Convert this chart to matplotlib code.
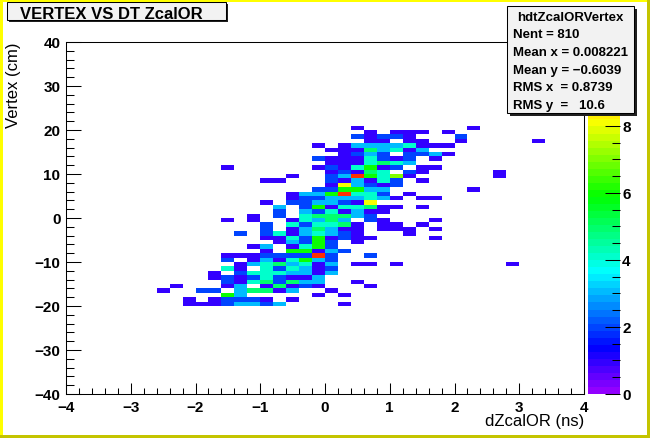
import numpy as np
import matplotlib
matplotlib.use("Agg")
import matplotlib.pyplot as plt
from matplotlib.colors import ListedColormap, Normalize
from matplotlib.patches import Rectangle
from matplotlib.ticker import MultipleLocator
import colorsys

plt.rcParams['font.family'] = ['Liberation Sans', 'DejaVu Sans']

# ---------------- data ----------------
x_range = (-4.0, 4.0)
n_xbins = 40
y_range = (-40.0, 40.0)
n_ybins = 80
z_max = 10.5
z_ticks = [0, 2, 4, 6, 8, 10]
z_tick_labels = ["0", "2", "4", "6", "8", ""]   # "10" is hidden under the stats box

# one entry per filled y-bin: y-bin centre, the x-bin centres filled, and their entries
y_rows = [20.5, 19.5, 18.5, 17.5, 16.5, 15.5, 14.5, 13.5, 12.5, 11.5, 10.5, 9.5, 8.5,
          7.5, 6.5, 5.5, 4.5, 3.5, 2.5, 1.5, 0.5, -0.5, -1.5, -2.5, -3.5, -4.5, -5.5,
          -6.5, -7.5, -8.5, -9.5, -10.5, -11.5, -12.5, -13.5, -14.5, -15.5, -16.5,
          -17.5, -18.5, -19.5]
x_cells = [
    [0.5, 2.3],
    [0.7, 1.1, 1.3, 1.5, 1.9],
    [0.5, 0.7, 0.9, 1.1, 1.3, 2.1],
    [0.7, 0.9, 1.3, 1.5, 2.1, 3.3],
    [-0.1, 0.3, 0.5, 0.7, 0.9, 1.1, 1.3, 1.5, 1.7, 1.9],
    [0.1, 0.3, 0.5, 0.7, 0.9, 1.1, 1.3, 1.5],
    [0.3, 0.5, 0.7, 0.9, 1.3, 1.5, 1.7, 1.9],
    [-0.1, 0.1, 0.3, 0.5, 0.7, 0.9, 1.1, 1.3, 1.7],
    [0.1, 0.3, 0.5, 0.7, 0.9, 1.1, 1.3],
    [-1.5, -0.1, 0.1, 0.3, 0.5, 0.7, 0.9, 1.1, 1.5, 1.7],
    [0.1, 0.3, 0.5, 0.7, 0.9, 1.3, 1.5, 2.7],
    [-0.5, 0.1, 0.3, 0.5, 0.7, 0.9, 1.1, 1.3, 2.7],
    [-0.9, -0.7, 0.1, 0.3, 0.5, 0.7, 0.9, 1.1, 1.5],
    [0.1, 0.3, 0.5, 0.7, 0.9, 1.1],
    [-0.1, 0.1, 0.3, 0.5, 0.7, 0.9, 2.3],
    [-0.5, -0.3, -0.1, 0.1, 0.3, 0.5, 0.7, 0.9, 1.3],
    [-0.5, -0.3, -0.1, 0.1, 0.3, 0.5, 0.7, 0.9, 1.1, 1.5, 1.7],
    [-0.9, -0.5, -0.3, -0.1, 0.1, 0.3, 0.5, 0.7],
    [-0.7, -0.3, -0.1, 0.1, 0.3, 0.5, 0.7, 0.9, 1.1, 1.5],
    [-0.7, -0.3, -0.1, 0.1, 0.3, 0.5, 0.7, 0.9],
    [-1.1, -0.7, -0.3, -0.1, 0.1, 0.3, 0.5, 0.7],
    [-1.5, -1.1, -0.5, -0.3, -0.1, 0.1, 0.3, 0.7, 0.9, 1.7],
    [-0.9, -0.5, -0.3, -0.1, 0.1, 0.3, 0.5, 0.9, 1.1, 1.5],
    [-0.9, -0.5, -0.3, -0.1, 0.1, 0.3, 0.5, 0.9, 1.1, 1.3, 1.7],
    [-1.3, -0.9, -0.7, -0.5, -0.3, -0.1, 0.1, 0.3, 0.5, 1.3],
    [-0.9, -0.7, -0.5, -0.3, -0.1, 0.1, 0.3, 0.5, 0.7, 1.7],
    [-0.7, -0.5, -0.3, -0.1, 0.1, 0.5],
    [-1.1, -0.9, -0.5, -0.3, -0.1, 0.1],
    [-0.9, -0.5, -0.3, -0.1, 0.1, 0.3],
    [-1.5, -1.3, -1.1, -0.9, -0.7, -0.5, -0.3, -0.1, 0.1, 0.7],
    [-1.5, -1.1, -0.9, -0.7, -0.5, -0.3, -0.1, 0.1],
    [-1.3, -1.1, -0.9, -0.7, -0.5, -0.3, -0.1, 0.1, 0.5, 0.7, 1.1, 2.9],
    [-1.5, -1.3, -0.9, -0.7, -0.5, -0.3, -0.1, 0.1],
    [-1.7, -1.3, -1.1, -0.9, -0.7, -0.5, -0.3, -0.1, 0.1],
    [-1.7, -1.5, -1.3, -1.1, -0.9, -0.7, -0.5, -0.3, -0.1],
    [-1.5, -1.3, -1.1, -0.9, -0.7, -0.5, -0.3, -0.1, 0.5],
    [-2.3, -1.5, -1.3, -0.9, -0.7, -0.5, -0.3, -0.1, 0.7],
    [-2.5, -1.9, -1.7, -1.3, -1.1, -0.9, -0.7, -0.5, 0.1],
    [-1.5, -1.3, -0.1, 0.3],
    [-2.1, -1.7, -1.5, -1.3, -1.1, -0.9, -0.5],
    [-2.1, -1.9, -1.7, -1.5, -1.3, -1.1, -0.9, -0.7, 0.3],
]
n_cells = [
    [1, 1],
    [1, 1, 1, 1, 1],
    [2, 1, 2, 2, 1, 2],
    [1, 1, 1, 1, 1, 1],
    [1, 1, 3, 3, 3, 3, 4, 1, 1, 1],
    [1, 1, 1, 5, 3, 4, 1, 3],
    [1, 2, 3, 2, 2, 2, 3, 1],
    [2, 1, 1, 1, 4, 2, 1, 2, 1],
    [1, 1, 1, 4, 5, 4, 3],
    [1, 1, 2, 1, 4, 6, 1, 2, 1, 1],
    [1, 2, 1, 5, 4, 2, 1, 1],
    [1, 2, 3, 10, 6, 4, 7, 1, 1],
    [1, 1, 2, 1, 3, 1, 4, 2, 1],
    [1, 8, 3, 2, 1, 2],
    [2, 2, 6, 6, 3, 3, 1],
    [1, 3, 3, 6, 10, 4, 4, 2, 1],
    [1, 2, 2, 3, 3, 3, 4, 3, 1, 1, 1],
    [1, 2, 2, 3, 3, 2, 1, 8],
    [3, 2, 6, 1, 4, 4, 5, 1, 1, 1],
    [2, 3, 2, 4, 1, 3, 1, 1],
    [1, 2, 4, 5, 5, 5, 3, 2],
    [1, 1, 1, 4, 3, 5, 3, 2, 1, 1],
    [2, 4, 2, 4, 4, 5, 1, 1, 1, 1],
    [2, 1, 3, 5, 3, 1, 1, 1, 1, 1, 1],
    [2, 2, 4, 1, 3, 4, 3, 2, 1, 1],
    [1, 1, 4, 2, 6, 1, 2, 1, 1, 1],
    [1, 3, 2, 6, 2, 1],
    [1, 3, 1, 4, 6, 2],
    [1, 6, 6, 1, 3, 2],
    [1, 1, 1, 2, 2, 2, 2, 10, 2, 2],
    [2, 1, 3, 1, 4, 6, 3, 2],
    [1, 3, 4, 5, 3, 4, 1, 3, 1, 1, 1, 1],
    [4, 1, 4, 2, 4, 3, 1, 2],
    [1, 2, 4, 4, 4, 3, 3, 1, 3],
    [1, 2, 1, 2, 4, 2, 1, 1, 3],
    [2, 1, 4, 5, 2, 5, 3, 3, 1],
    [1, 1, 3, 1, 5, 1, 2, 1, 1],
    [1, 2, 2, 3, 5, 5, 1, 3, 1],
    [6, 3, 1, 1],
    [1, 1, 2, 2, 2, 1, 1],
    [1, 1, 1, 2, 3, 3, 2, 3, 1],
]

hist_name = "hdtZcalORVertex"
stats_lines = ["Nent = 810", "Mean x = 0.008221", "Mean y = \u22120.6039",
               "RMS x  = 0.8739", "RMS y  =   10.6"]
title = "VERTEX VS DT ZcalOR"
x_title = "dZcalOR (ns)"
y_title = "Vertex (cm)"

# ---------------- build histogram ----------------
cx, cy, cw = [], [], []
for yv, xs, ns in zip(y_rows, x_cells, n_cells):
    for xv, nv in zip(xs, ns):
        cx.append(xv); cy.append(yv); cw.append(nv)
xedges = np.linspace(x_range[0], x_range[1], n_xbins + 1)
yedges = np.linspace(y_range[0], y_range[1], n_ybins + 1)
H, xe, ye = np.histogram2d(cx, cy, bins=[xedges, yedges], weights=cw)
Hm = np.ma.masked_where(H.T <= 0, H.T)

# ROOT "pretty" palette: 50 HLS colours, hue 280 -> 0
pal = [colorsys.hls_to_rgb(((280 - (i + 1) * 5.6) % 360) / 360.0, 0.5, 1.0) for i in range(50)]
cmap = ListedColormap(pal)
norm = Normalize(0, z_max)

# ---------------- figure ----------------
W, Hpx = 650, 439
fig = plt.figure(figsize=(W / 100, Hpx / 100), dpi=100)
fig.patch.set_facecolor('white')

def fx(p):
    return p / W

def fy(p):
    return 1 - p / Hpx

lw = 0.75
ax = fig.add_axes([fx(66), fy(395), (584 - 66) / W, (395 - 43) / Hpx])
mesh = ax.pcolormesh(xe, ye, Hm, cmap=cmap, norm=norm, shading='flat',
                     antialiased=False, linewidth=0)
ax.set_xlim(*x_range)
ax.set_ylim(*y_range)
ax.xaxis.set_major_locator(MultipleLocator(1))
ax.xaxis.set_minor_locator(MultipleLocator(0.2))
ax.yaxis.set_major_locator(MultipleLocator(10))
ax.yaxis.set_minor_locator(MultipleLocator(2))
ax.tick_params(which='both', direction='in', top=False, right=False,
               width=lw, color='black', labelsize=11)
ax.tick_params(axis='x', which='major', length=8, pad=4)
ax.tick_params(axis='x', which='minor', length=4)
ax.tick_params(axis='y', which='major', length=11, pad=4)
ax.tick_params(axis='y', which='minor', length=5.5)
for s in ax.spines.values():
    s.set_linewidth(lw)
for lab in ax.get_xticklabels() + ax.get_yticklabels():
    lab.set_fontweight('bold')

fig.text(fx(584), fy(414), x_title, ha='right', va='top', fontsize=12)
fig.text(fx(14), fy(42), y_title, rotation=90, ha='center', va='top', fontsize=12)

# colour bar
cax = fig.add_axes([fx(588), fy(395), 32 / W, (395 - 43) / Hpx])
cb = fig.colorbar(mesh, cax=cax, ticks=z_ticks)
cb.ax.set_yticklabels(z_tick_labels)
cb.outline.set_visible(False)
cax.yaxis.set_minor_locator(MultipleLocator(0.5))
cax.tick_params(which='both', direction='in', right=True, left=False,
                width=lw, color='black', labelsize=11, pad=1.5)
cax.tick_params(which='major', length=11)
cax.tick_params(which='minor', length=5.5)
for lab in cax.get_yticklabels():
    lab.set_fontweight('bold')

# title box
def box(x0, y0, x1, y1, sh=2):
    fig.add_artist(Rectangle((fx(x0 + sh), fy(y1 + sh)), (x1 - x0) / W, (y1 - y0) / Hpx,
                             transform=fig.transFigure, facecolor='#202020',
                             edgecolor='none', zorder=10))
    fig.add_artist(Rectangle((fx(x0), fy(y1)), (x1 - x0) / W, (y1 - y0) / Hpx,
                             transform=fig.transFigure, facecolor='#f2f2f2',
                             edgecolor='black', linewidth=lw, zorder=11))

box(7, 3, 226, 21)
fig.text(fx(20), fy(19), title, ha='left', va='baseline', fontsize=12,
         fontweight='bold', zorder=12)

# stats box
box(507, 7, 634, 114, sh=3)
fig.text(fx(570), fy(21), hist_name, ha='center', va='baseline', fontsize=9.5,
         fontweight='bold', zorder=12)
for i, line in enumerate(stats_lines):
    fig.text(fx(513), fy(38.5 + i * 17.6), line, ha='left', va='baseline',
             fontsize=9.5, fontweight='bold', zorder=12)

# canvas border (bevel)
for (x0, y0, w, h, c) in [(0, 0, 3, Hpx, '#ffff00'), (0, 0, W, 2.5, '#ffff00'),
                          (W - 3.5, 0, 3.5, Hpx, '#c4c400'), (0, Hpx - 3, W, 3, '#c4c400')]:
    fig.add_artist(Rectangle((fx(x0), fy(y0 + h)), w / W, h / Hpx,
                             transform=fig.transFigure, facecolor=c,
                             edgecolor='none', zorder=20))

fig.savefig('out.png', dpi=100, facecolor='white')
